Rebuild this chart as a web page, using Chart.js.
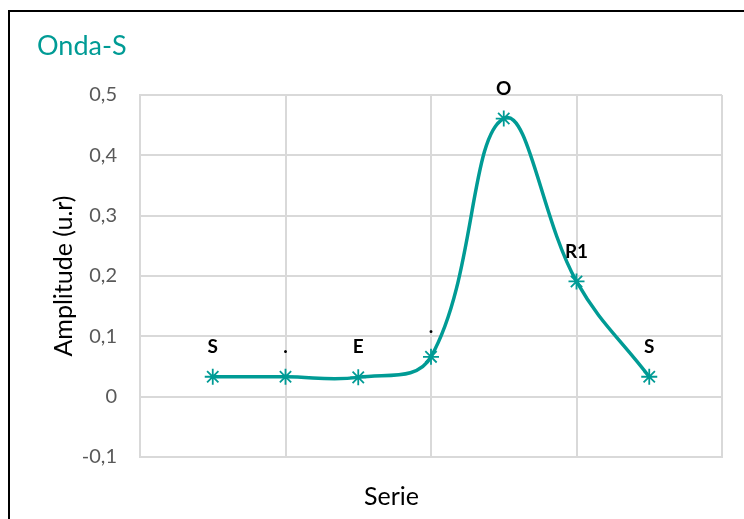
<!DOCTYPE html>
<html>
<head>
<meta charset="utf-8">
<script src="https://cdn.jsdelivr.net/npm/chart.js@4/dist/chart.umd.min.js"></script>
<style>
  html, body { margin: 0; padding: 0; background: #fff; overflow: hidden; }
  #wrap { position: relative; width: 744px; height: 519px; overflow: hidden; }
  #frame { position: absolute; left: 8px; top: 10px; width: 800px; height: 600px;
           border-left: 2px solid #000; border-top: 2px solid #000; }
  #title { position: absolute; left: 37px; top: 28px; font-family: Lato, sans-serif;
           font-size: 27px; color: #009B95; }
  #xtitle { position: absolute; left: 364px; top: 480px; font-family: Lato, sans-serif;
            font-size: 25px; color: #000; }
  canvas { position: absolute; left: 0; top: 0; }
</style>
</head>
<body>
<div id="wrap">
  <div id="frame"></div>
  <canvas id="c" width="744" height="519"></canvas>
  <div id="title">Onda-S</div>
  <div id="xtitle">Serie</div>
</div>
<script>
const positions = [1, 2, 3, 4, 5, 6, 7];
const amplitudes = [0.033, 0.033, 0.032, 0.066, 0.461, 0.191, 0.033];
const pointLabels = ["S", ".", "E", ".", "O", "R1", "S"];
const yTicks = { min: -0.1, max: 0.5, step: 0.1 };
const xRange = { min: 0, max: 8, step: 2 };

const TEAL = "#009B95";
const GRID = "#D9D9D9";

const labelPlugin = {
  id: "pointLabels",
  afterDatasetsDraw(chart) {
    const meta = chart.getDatasetMeta(0);
    const ctx = chart.ctx;
    ctx.save();
    ctx.font = "bold 19px Lato, sans-serif";
    ctx.fillStyle = "#000";
    ctx.textAlign = "center";
    ctx.textBaseline = "middle";
    meta.data.forEach((el, i) => {
      ctx.fillText(pointLabels[i], el.x, el.y - 30);
    });
    ctx.restore();
  }
};

new Chart(document.getElementById("c"), {
  type: "scatter",
  data: {
    datasets: [{
      data: positions.map((x, i) => ({ x: x, y: amplitudes[i] })),
      showLine: true,
      borderColor: TEAL,
      backgroundColor: TEAL,
      borderWidth: 3.5,
      tension: 0.4,
      pointStyle: "star",
      pointRadius: 8,
      pointBorderWidth: 1.8,
      pointBorderColor: TEAL
    }]
  },
  options: {
    responsive: false,
    animation: false,
    layout: { padding: { top: 95, right: 22, bottom: 62, left: 0 } },
    plugins: { legend: { display: false }, tooltip: { enabled: false } },
    scales: {
      x: {
        type: "linear",
        min: xRange.min, max: xRange.max,
        ticks: { display: false, stepSize: xRange.step },
        grid: { color: GRID, lineWidth: 2, drawTicks: false },
        border: { color: GRID, width: 2 }
      },
      y: {
        min: yTicks.min, max: yTicks.max,
        afterFit(scale) { scale.width = 140; },
        ticks: {
          stepSize: yTicks.step,
          padding: 23,
          color: "#595959",
          font: { family: "Lato", size: 20 },
          callback: v => (Math.abs(v) < 1e-9 ? "0" : v.toFixed(1).replace(".", ","))
        },
        grid: { color: GRID, lineWidth: 2, drawTicks: false },
        border: { color: GRID, width: 2 },
        title: {
          display: true,
          text: "Amplitude (u.r)",
          color: "#000",
          font: { family: "Lato", size: 25 },
          padding: { top: 49, bottom: 0 }
        }
      }
    }
  },
  plugins: [labelPlugin]
});
</script>
</body>
</html>
